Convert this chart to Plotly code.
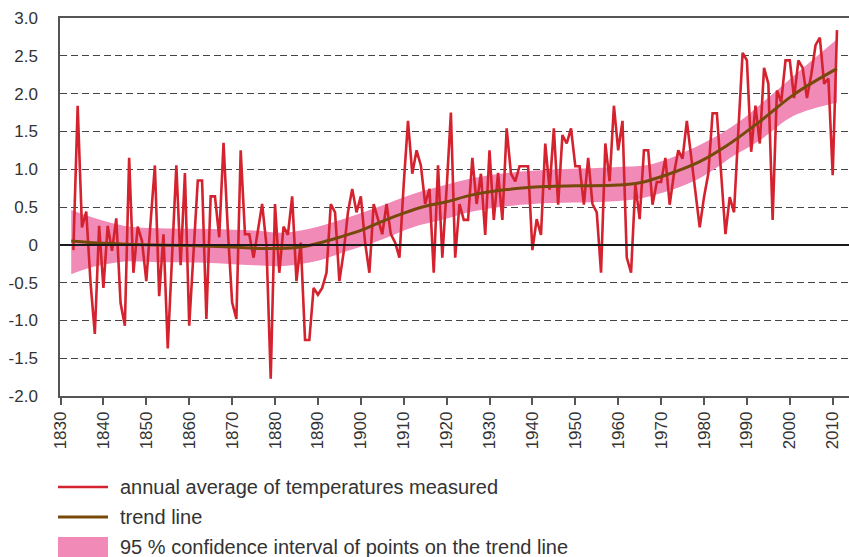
import plotly.graph_objects as go

# ---- data ----
years = list(range(1833, 2012))
annual = [
    -0.07, 1.84, 0.23, 0.44, -0.50, -1.18, 0.25, -0.57, 0.25, -0.08,   # 1833-1842
    0.35, -0.77, -1.07, 1.15, -0.37, 0.24, 0.05, -0.48, 0.30, 1.05,    # 1843-1852
    -0.68, 0.14, -1.37, -0.15, 1.05, -0.27, 0.95, -1.07, -0.10, 0.85,  # 1853-1862
    0.85, -0.98, 0.64, 0.64, 0.10, 1.35, 0.20, -0.76, -0.98, 1.25,     # 1863-1872
    0.14, 0.14, -0.17, 0.18, 0.54, 0.00, -1.77, 0.54, -0.37, 0.24,     # 1873-1882
    0.13, 0.64, -0.48, 0.03, -1.26, -1.26, -0.57, -0.66, -0.57, -0.37, # 1883-1892
    0.54, 0.43, -0.48, -0.10, 0.43, 0.74, 0.43, 0.64, 0.03, -0.37,     # 1893-1902
    0.54, 0.34, 0.14, 0.54, 0.14, 0.03, -0.17, 0.80, 1.64, 0.94,       # 1903-1912
    1.25, 1.05, 0.54, 0.74, -0.37, 1.05, -0.17, 0.74, 1.75, -0.17,     # 1913-1922
    0.54, 0.33, 0.33, 1.15, 0.54, 0.94, 0.13, 1.25, 0.33, 0.95,        # 1923-1932
    0.33, 1.54, 0.94, 0.84, 1.04, 1.04, 1.04, -0.07, 0.34, 0.13,       # 1933-1942
    1.34, 0.73, 1.54, 0.53, 1.45, 1.34, 1.54, 1.04, 1.04, 0.53,        # 1943-1952
    1.15, 0.54, 0.43, -0.37, 1.34, 0.84, 1.84, 1.25, 1.64, -0.17,      # 1953-1962
    -0.37, 0.80, 0.34, 1.25, 1.25, 0.53, 0.83, 0.83, 1.15, 0.53,       # 1963-1972
    0.94, 1.25, 1.14, 1.64, 1.15, 0.70, 0.23, 0.63, 0.94, 1.74,        # 1973-1982
    1.74, 0.94, 0.14, 0.63, 0.43, 1.50, 2.54, 2.44, 1.23, 1.84,        # 1983-1992
    1.34, 2.34, 2.13, 0.33, 2.04, 1.89, 2.44, 2.44, 1.94, 2.44,        # 1993-2002
    2.34, 1.94, 2.25, 2.64, 2.74, 2.13, 2.20, 0.92, 2.84,              # 2003-2011
]

trend_years = [1832.5, 1840, 1850, 1860, 1870, 1878, 1886, 1890, 1895, 1900,
               1905, 1910, 1915, 1920, 1926, 1934, 1943, 1950, 1960, 1965,
               1971, 1979, 1985, 1993, 2001, 2011]
trend = [0.05, 0.02, 0.00, -0.01, -0.03, -0.05, -0.03, 0.02, 0.10, 0.19,
         0.31, 0.42, 0.51, 0.57, 0.66, 0.73, 0.77, 0.78, 0.79, 0.82,
         0.92, 1.10, 1.30, 1.63, 1.99, 2.33]

band_years = [1832.5, 1837, 1845, 1853, 1865, 1875, 1882, 1890, 1897, 1904,
              1912, 1919, 1926, 1934, 1943, 1960, 1968, 1979, 1987, 1993,
              2001, 2011]
band_upper = [0.46, 0.37, 0.25, 0.22, 0.21, 0.19, 0.16, 0.24, 0.36, 0.50,
              0.67, 0.78, 0.88, 0.95, 0.99, 1.03, 1.07, 1.32, 1.58, 1.85,
              2.24, 2.72]
band_lower = [-0.39, -0.30, -0.22, -0.23, -0.24, -0.27, -0.28, -0.21, -0.08, 0.05,
              0.23, 0.33, 0.44, 0.51, 0.55, 0.58, 0.65, 0.88, 1.18, 1.38,
              1.71, 1.88]

x_ticks = list(range(1830, 2011, 10))
y_ticks = [3.0, 2.5, 2.0, 1.5, 1.0, 0.5, 0.0, -0.5, -1.0, -1.5, -2.0]
y_tick_text = ["3.0", "2.5", "2.0", "1.5", "1.0", "0.5", "0", "-0.5", "-1.0", "-1.5", "-2.0"]

legend_labels = [
    "annual average of temperatures measured",
    "trend line",
    "95 % confidence interval of points on the trend line",
]

# ---- style ----
RED = "#d4232f"
BROWN = "#774a0b"
PINK = "#f18ab6"
TEXT = "#333333"
FONT = "Liberation Sans, Arial, sans-serif"

W, H = 849, 557
ML, MR, MT, MB = 60, 0, 18, 161
PW, PH = W - ML - MR, H - MT - MB


def px_to_paper_x(px):
    return (px - ML) / PW


def py_to_paper_y(py):
    return (H - MB - py) / PH


fig = go.Figure()

fig.add_trace(go.Scatter(x=band_years, y=band_lower, mode="lines",
                         line=dict(width=0, shape="spline", color=PINK),
                         hoverinfo="skip", showlegend=False))
fig.add_trace(go.Scatter(x=band_years, y=band_upper, mode="lines",
                         line=dict(width=0, shape="spline", color=PINK),
                         fill="tonexty", fillcolor=PINK,
                         name=legend_labels[2], showlegend=False))
fig.add_trace(go.Scatter(x=years, y=annual, mode="lines",
                         line=dict(color=RED, width=2.6),
                         name=legend_labels[0], showlegend=False))
fig.add_trace(go.Scatter(x=trend_years, y=trend, mode="lines",
                         line=dict(color=BROWN, width=3, shape="spline"),
                         name=legend_labels[1], showlegend=False))

# legend drawn below the plot
leg_x0, leg_x1, txt_x = 58, 108, 118
rows = [487, 517, 547]
fig.add_shape(type="line", xref="paper", yref="paper",
              x0=px_to_paper_x(leg_x0), x1=px_to_paper_x(leg_x1),
              y0=py_to_paper_y(rows[0]), y1=py_to_paper_y(rows[0]),
              line=dict(color=RED, width=2.6))
fig.add_shape(type="line", xref="paper", yref="paper",
              x0=px_to_paper_x(leg_x0), x1=px_to_paper_x(leg_x1),
              y0=py_to_paper_y(rows[1]), y1=py_to_paper_y(rows[1]),
              line=dict(color=BROWN, width=3))
fig.add_shape(type="rect", xref="paper", yref="paper",
              x0=px_to_paper_x(leg_x0), x1=px_to_paper_x(leg_x1),
              y0=py_to_paper_y(rows[2] - 10), y1=py_to_paper_y(rows[2] + 12),
              line=dict(width=0), fillcolor=PINK)
for label, row in zip(legend_labels, rows):
    fig.add_annotation(text=label, xref="paper", yref="paper",
                       x=px_to_paper_x(txt_x), y=py_to_paper_y(row),
                       xanchor="left", yanchor="middle", showarrow=False,
                       font=dict(family=FONT, size=20, color=TEXT))

fig.update_layout(
    width=W, height=H,
    margin=dict(l=ML, r=MR, t=MT, b=MB, pad=0),
    paper_bgcolor="white", plot_bgcolor="white",
    font=dict(family=FONT, size=17, color=TEXT),
    showlegend=False,
)

fig.update_xaxes(
    range=[1829.88, 2013.8],
    tickmode="array", tickvals=x_ticks, ticktext=[str(v) for v in x_ticks],
    tickangle=-90, ticks="outside", ticklen=7, tickwidth=1.5, tickcolor="#555555",
    showline=True, linecolor="#555555", linewidth=1.5, mirror=True,
    showgrid=False, zeroline=False,
    tickfont=dict(family=FONT, size=17, color=TEXT),
)

fig.update_yaxes(
    range=[-2.0, 3.0],
    tickmode="array", tickvals=y_ticks, ticktext=y_tick_text,
    ticks="", ticklabelstandoff=17,
    showline=True, linecolor="#555555", linewidth=1.5,
    showgrid=True, gridcolor="#444444", gridwidth=1.4, griddash="7px,4px",
    zeroline=True, zerolinecolor="#1a1a1a", zerolinewidth=2,
    tickfont=dict(family=FONT, size=17, color=TEXT),
)

try:
    fig.update_yaxes(zerolinelayer="above traces")
except Exception:
    pass

fig.write_html("out.html")
